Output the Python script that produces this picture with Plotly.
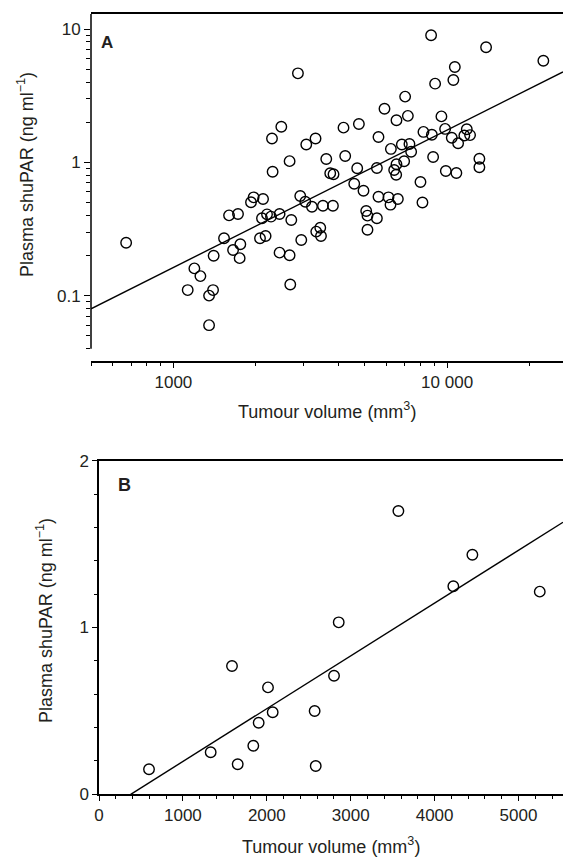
import numpy as np
import plotly.graph_objects as go

# ---------------- data: panel A (log-log) ----------------
vol_a = [8740, 13880, 22470, 2851, 10670, 10540, 9040, 7025, 5905, 6531,
         7188, 9533, 2479, 4183, 4761, 8195, 8795, 9833, 11800, 3058,
         3306, 5614, 6231, 6833, 7285, 7389, 10400, 10970, 11560, 12130,
         2658, 3618, 4243, 8890, 13120, 13120, 6967, 6531, 6406, 6515,
         4694, 5539, 3741, 3846, 9892, 10810, 7992, 4578, 4949, 2907,
         5614, 6107, 6608, 8127, 2292, 2304, 672, 1128, 1193, 1255,
         1350, 1396, 1350, 1403, 1531, 1597, 1722, 1652, 1756, 1746,
         1921, 1964, 2126, 2107, 2198, 2273, 2443, 2696, 2072, 2172,
         2443, 2658, 2673, 3033, 3208, 3519, 3827, 6211, 5063, 5118,
         5539, 5118, 3326, 3440, 3461, 2932]
shupar_a = [8.97, 7.29, 5.78, 4.65, 5.19, 4.14, 3.89, 3.11, 2.52, 2.07,
            2.23, 2.21, 1.85, 1.82, 1.94, 1.69, 1.61, 1.78, 1.77, 1.36,
            1.51, 1.55, 1.26, 1.36, 1.37, 1.20, 1.53, 1.39, 1.59, 1.60,
            1.02, 1.06, 1.115, 1.096, 1.064, 0.917, 1.017, 0.966, 0.876, 0.807,
            0.902, 0.906, 0.827, 0.813, 0.860, 0.831, 0.712, 0.691, 0.612, 0.559,
            0.552, 0.546, 0.530, 0.499, 1.51, 0.850, 0.249, 0.110, 0.160, 0.140,
            0.100, 0.110, 0.060, 0.199, 0.269, 0.400, 0.409, 0.220, 0.243, 0.191,
            0.501, 0.546, 0.530, 0.380, 0.407, 0.391, 0.409, 0.369, 0.269, 0.280,
            0.210, 0.201, 0.121, 0.506, 0.464, 0.472, 0.472, 0.481, 0.431, 0.398,
            0.380, 0.312, 0.302, 0.323, 0.280, 0.261]
fit_a_slope = 1.031       # log10(y) = slope*log10(x) + intercept
fit_a_intercept = -3.882

# ---------------- data: panel B (linear) ----------------
vol_b = [596, 1331, 1585, 1653, 1839, 1903, 2014, 2070, 2570, 2583,
         2801, 2857, 3568, 4223, 4450, 5253]
shupar_b = [0.150, 0.252, 0.769, 0.180, 0.291, 0.429, 0.641, 0.492, 0.499, 0.170,
            0.711, 1.031, 1.698, 1.247, 1.436, 1.215]
fit_b_slope = 0.0003166
fit_b_intercept = -0.1197

# tick labels
xa_ticks = [1000, 10000]
xa_ticktext = ["1000", "10 000"]
ya_ticks = [0.1, 1, 10]
ya_ticktext = ["0.1", "1", "10"]
xb_ticks = [0, 1000, 2000, 3000, 4000, 5000]
yb_ticks = [0, 1, 2]

# ---------------- layout geometry ----------------
W, H = 563, 859
FONT = "Liberation Sans, Arial, Helvetica, sans-serif"
TXT = "#231f20"
xa_range = [np.log10(500), 4.4234]
ya_range = [-1.4906, 1.1125]
xa_dom = [91 / W, 1.0]
ya_dom = [(H - 361) / H, (H - 14) / H]
xb_range = [0, 5530]
yb_range = [0, 2]
xb_dom = [99 / W, 1.0]
yb_dom = [(H - 794.3) / H, (H - 460.7) / H]

fig = go.Figure()

marker = dict(symbol="circle-open", size=10.5, color="black", line=dict(width=1.4, color="black"))

fig.add_trace(go.Scatter(x=vol_a, y=shupar_a, mode="markers", marker=marker,
                         xaxis="x", yaxis="y", showlegend=False, cliponaxis=False))
lx_a = np.array([10 ** xa_range[0], 10 ** xa_range[1]])
ly_a = 10 ** (fit_a_slope * np.log10(lx_a) + fit_a_intercept)
fig.add_trace(go.Scatter(x=lx_a, y=ly_a, mode="lines", line=dict(color="black", width=1.4),
                         xaxis="x", yaxis="y", showlegend=False))

fig.add_trace(go.Scatter(x=vol_b, y=shupar_b, mode="markers", marker=marker,
                         xaxis="x2", yaxis="y2", showlegend=False, cliponaxis=False))
x0_b = -fit_b_intercept / fit_b_slope
lx_b = np.array([x0_b, xb_range[1]])
ly_b = fit_b_slope * lx_b + fit_b_intercept
fig.add_trace(go.Scatter(x=lx_b, y=ly_b, mode="lines", line=dict(color="black", width=1.4),
                         xaxis="x2", yaxis="y2", showlegend=False))

tickfont = dict(family=FONT, size=17, color=TXT)

minor_xa = [500, 600, 700, 800, 900] + [k * 1000 for k in range(2, 10)] + [20000]
minor_ya = [k / 100 for k in range(4, 10)] + [k / 10 for k in range(2, 10)] + list(range(2, 10))

fig.update_layout(
    template="none",
    width=W, height=H,
    margin=dict(l=0, r=0, t=0, b=0, pad=0, autoexpand=False),
    paper_bgcolor="white", plot_bgcolor="white",
    font=dict(family=FONT, color=TXT),
    xaxis=dict(type="log", range=xa_range, domain=xa_dom, anchor="y", automargin=False,
               showgrid=False, zeroline=False, showline=True, linecolor="black", linewidth=1.5,
               mirror=True, ticks="outside", ticklen=5, tickwidth=1.2, tickcolor="black",
               tickmode="array", tickvals=xa_ticks, ticktext=xa_ticktext, tickfont=tickfont,
               minor=dict(ticks="outside", ticklen=3, tickwidth=1.1, tickcolor="black",
                          tickmode="array", tickvals=minor_xa, showgrid=False)),
    yaxis=dict(type="log", range=ya_range, domain=ya_dom, anchor="x", automargin=False,
               showgrid=False, zeroline=False, showline=False,
               ticks="outside", ticklen=6, tickwidth=1.2, tickcolor="black",
               tickmode="array", tickvals=ya_ticks, ticktext=ya_ticktext, tickfont=tickfont,
               minor=dict(ticks="outside", ticklen=4, tickwidth=1.1, tickcolor="black",
                          tickmode="array", tickvals=minor_ya, showgrid=False)),
    xaxis2=dict(range=xb_range, domain=xb_dom, anchor="y2", automargin=False,
                showgrid=False, zeroline=False, showline=True, linecolor="black", linewidth=1.5,
                mirror=True, ticks="outside", ticklen=5, tickwidth=1.2, tickcolor="black",
                tickmode="array", tickvals=xb_ticks, tickfont=tickfont,
                minor=dict(ticks="outside", ticklen=3, tickwidth=1.1, tickcolor="black",
                           tickmode="linear", tick0=0, dtick=200, showgrid=False)),
    yaxis2=dict(range=yb_range, domain=yb_dom, anchor="x2", automargin=False,
                showgrid=False, zeroline=False, showline=True, linecolor="black", linewidth=1.5,
                ticks="outside", ticklen=5, tickwidth=1.2, tickcolor="black",
                tickmode="array", tickvals=yb_ticks, tickfont=tickfont,
                minor=dict(ticks="outside", ticklen=3, tickwidth=1.1, tickcolor="black",
                           tickmode="linear", tick0=0, dtick=0.2, showgrid=False)),
)

# Panel A y-axis line, ending at 0.04 (offset from the x axis)
y_bottom_a = ya_dom[0] + (np.log10(0.04) - ya_range[0]) / (ya_range[1] - ya_range[0]) * (ya_dom[1] - ya_dom[0])
fig.add_shape(type="line", xref="paper", yref="paper", x0=xa_dom[0], x1=xa_dom[0],
              y0=y_bottom_a, y1=ya_dom[1], line=dict(color="black", width=1.5))

title_font = dict(family=FONT, size=18, color=TXT)


def note(text, px, py, font, angle=0):
    return dict(text=text, x=px / W, y=(H - py) / H, xref="paper", yref="paper",
                xanchor="center", yanchor="middle", showarrow=False, textangle=angle, font=font)


ann = [
    note("<b>A</b>", 107, 42.5, dict(family=FONT, size=17, color=TXT)),
    note("<b>B</b>", 124, 485, dict(family=FONT, size=18, color=TXT)),
    note("Tumour volume (mm<sup>3</sup>)", (xa_dom[0] + 1) / 2 * W, 410, title_font),
    note("Tumour volume (mm<sup>3</sup>)", (xb_dom[0] + 1) / 2 * W, 845, title_font),
    note("Plasma shuPAR (ng ml<sup>−1</sup>)", 25, 175, title_font, -90),
    note("Plasma shuPAR (ng ml<sup>−1</sup>)", 44, 621, title_font, -90),
]
fig.update_layout(annotations=ann)

fig.write_html("out.html", config={"displayModeBar": False},
               post_script="document.body.style.margin='0px';document.body.style.padding='0px';")
